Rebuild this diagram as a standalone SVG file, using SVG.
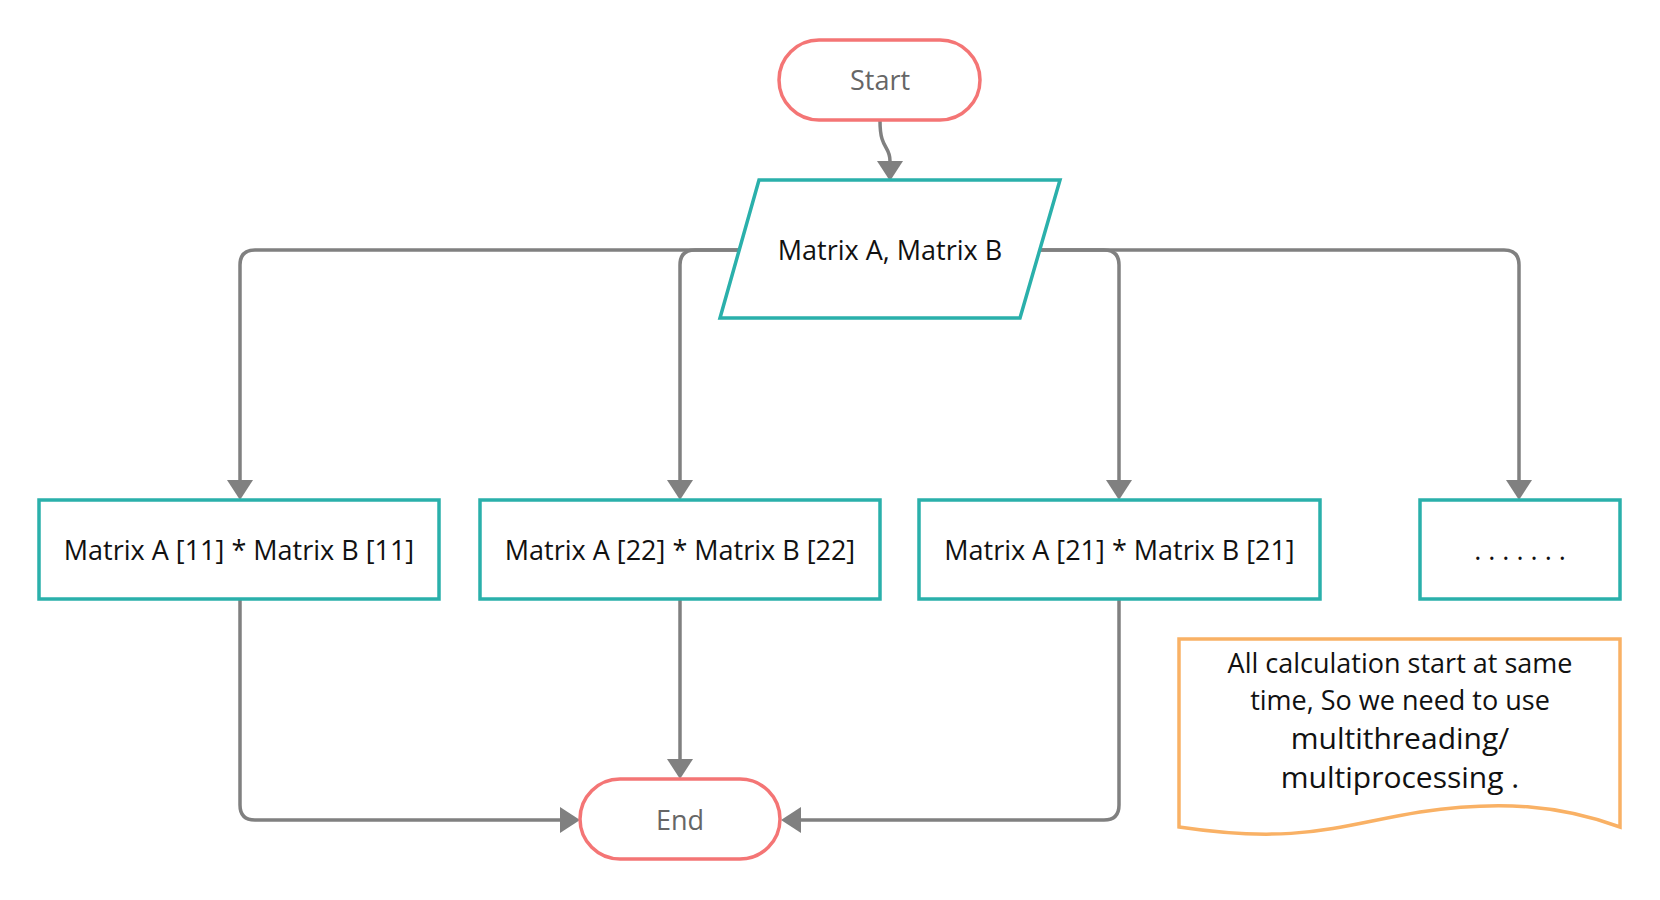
<svg xmlns="http://www.w3.org/2000/svg" width="1660" height="900" viewBox="0 0 1660 900">
<style>
  .term{fill:#fff;stroke:#F47575;stroke-width:3.5}
  .proc{fill:#fff;stroke:#2AB0AB;stroke-width:3.5}
  .note{fill:#fff;stroke:#F9B165;stroke-width:3.5}
  .conn{fill:none;stroke:#808080;stroke-width:3.5}
  .t{font-family:"Open Sans","Noto Sans","DejaVu Sans",sans-serif;font-size:27px;fill:#111;text-anchor:middle}
  .tg{fill:#666}
  .big{font-size:30px}
</style>
<defs>
  <marker id="arr" markerUnits="userSpaceOnUse" markerWidth="22" markerHeight="28" refX="0" refY="13" orient="auto">
    <path d="M0,0 L20,13 L0,26 z" fill="#808080"/>
  </marker>
</defs>
<rect width="1660" height="900" fill="#fff"/>
<g id="connectors">
  <path class="conn" d="M880,121 C880,150 890,145 890,161" marker-end="url(#arr)"/>
  <path class="conn" d="M739,250 L255,250 Q240,250 240,265 L240,480" marker-end="url(#arr)"/>
  <path class="conn" d="M739,250 L695,250 Q680,250 680,265 L680,480" marker-end="url(#arr)"/>
  <path class="conn" d="M1040,250 L1104,250 Q1119,250 1119,265 L1119,480" marker-end="url(#arr)"/>
  <path class="conn" d="M1040,250 L1504,250 Q1519,250 1519,265 L1519,480" marker-end="url(#arr)"/>
  <path class="conn" d="M240,599 L240,805 Q240,820 255,820 L560,820" marker-end="url(#arr)"/>
  <path class="conn" d="M680,599 L680,759" marker-end="url(#arr)"/>
  <path class="conn" d="M1119,599 L1119,805 Q1119,820 1104,820 L801,820" marker-end="url(#arr)"/>
</g>
<g id="start">
  <rect class="term" x="779" y="40" width="201" height="80" rx="40"/>
  <text class="t tg" x="880" y="90">Start</text>
</g>
<g id="input">
  <polygon class="proc" points="759,180 1060,180 1020,318 720,318"/>
  <text class="t" x="890" y="260">Matrix A, Matrix B</text>
</g>
<g id="p11">
  <rect class="proc" x="39" y="500" width="400" height="99"/>
  <text class="t" x="239" y="560">Matrix A [11] * Matrix B [11]</text>
</g>
<g id="p22">
  <rect class="proc" x="480" y="500" width="400" height="99"/>
  <text class="t" x="680" y="560">Matrix A [22] * Matrix B [22]</text>
</g>
<g id="p21">
  <rect class="proc" x="919" y="500" width="401" height="99"/>
  <text class="t" x="1119.5" y="560">Matrix A [21] * Matrix B [21]</text>
</g>
<g id="pmore">
  <rect class="proc" x="1420" y="500" width="200" height="99"/>
  <text class="t" x="1520" y="560">. . . . . . .</text>
</g>
<g id="end">
  <rect class="term" x="580" y="779" width="200" height="80" rx="40"/>
  <text class="t tg" x="680" y="830">End</text>
</g>
<g id="note">
  <path class="note" d="M1179,639 L1620,639 L1620,827 C1560,805 1500,800 1420,812 C1340,825 1300,845 1179,827 Z"/>
  <text class="t" x="1400" y="673">All calculation start at same</text>
  <text class="t" x="1400" y="710">time, So we need to use</text>
  <text class="t big" x="1400" y="749">multithreading/</text>
  <text class="t big" x="1400" y="788">multiprocessing .</text>
</g>
</svg>
